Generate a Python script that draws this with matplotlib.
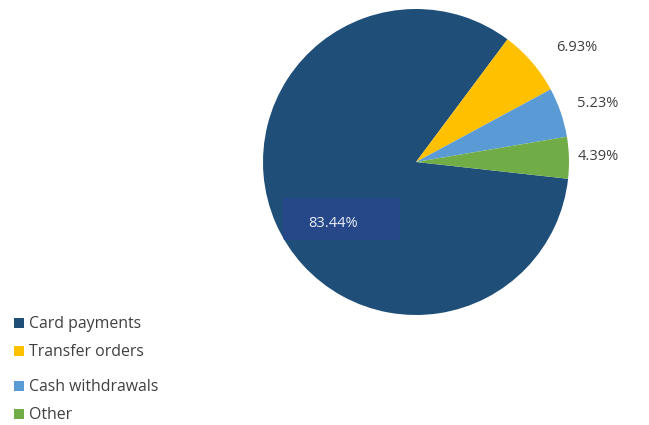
import numpy as np
import matplotlib.pyplot as plt
from matplotlib.patches import Patch, Rectangle

# Payment shares
categories = ['Card payments', 'Transfer orders', 'Cash withdrawals', 'Other']
shares = [83.44, 6.93, 5.23, 4.39]
colors = ['#1F4E79', '#FFC000', '#5B9BD5', '#70AD47']

plt.rcParams['font.family'] = ['Open Sans', 'DejaVu Sans']

fig = plt.figure(figsize=(6.49, 4.25), dpi=100)
W, H = 649, 425
cx, cy, r = 416, 162, 153
ax = fig.add_axes([(cx - r) / W, (H - cy - r) / H, 2 * r / W, 2 * r / H])

wedges, _ = ax.pie(shares, colors=colors, startangle=-6.3, counterclock=False,
                   radius=1.0, wedgeprops=dict(linewidth=0))
ax.set_xlim(-1, 1)
ax.set_ylim(-1, 1)
ax.set_aspect('equal')
ax.axis('off')

# outside labels for the small slices
label_dist = [None, 1.29, 1.25, 1.19]
angle_shift = [0, -5.5, -1, 0]
for i, w in enumerate(wedges):
    if i == 0:
        continue
    ang = np.deg2rad((w.theta1 + w.theta2) / 2 + angle_shift[i])
    ax.text(label_dist[i] * np.cos(ang), label_dist[i] * np.sin(ang),
            f'{shares[i]:.2f}%', ha='center', va='center',
            fontsize=10.5, color='#404040')

# inside label for the big slice, on a slightly bluer box clipped to the slice
box = Rectangle((-0.87, -0.51), 0.765, 0.275, facecolor='#264888',
                edgecolor='none')
ax.add_patch(box)
box.set_clip_path(wedges[0])
ax.text(-0.542, -0.399, f'{shares[0]:.2f}%', ha='center', va='center',
        fontsize=10.5, color='#E8EEF6')

handles = [Patch(facecolor=c, edgecolor='none') for c in colors]
leg_kw = dict(loc='upper left', frameon=False, fontsize=11.4,
              labelcolor='#404040', handlelength=0.6, handleheight=0.6,
              handletextpad=0.35, labelspacing=0.75)
fig.legend(handles[:2], categories[:2],
           bbox_to_anchor=(0 / W, 1 - 302 / H), **leg_kw)
fig.legend(handles[2:], categories[2:],
           bbox_to_anchor=(0 / W, 1 - 365 / H), **leg_kw)

fig.savefig('out.png', dpi=100, facecolor='white')
